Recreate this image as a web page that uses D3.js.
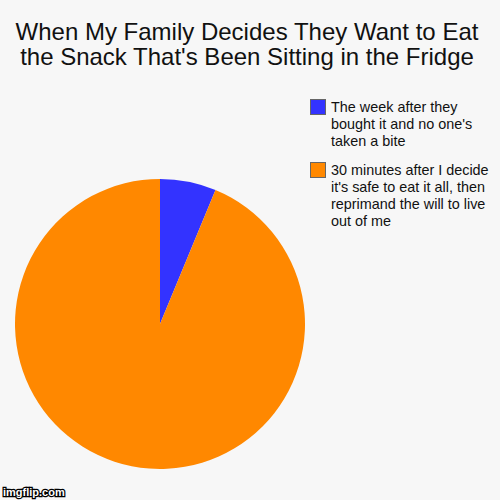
<!DOCTYPE html>
<html lang=en>
<head>
<meta charset='utf-8'>
<script src="https://d3js.org/d3.v7.min.js"></script>
<style>
    body { margin: 0; background: #f7f7f7; }
    svg { display: block; font-family: "Liberation Sans", Arial, sans-serif; }
</style>
</head>
<body>
<div id="chart"></div>
<script>
    // chart data
    var titleLines = ["When My Family Decides They Want to Eat", "the Snack That's Been Sitting in the Fridge"];
    var labels = [
        ["The week after they", "bought it and no one's", "taken a bite"],
        ["30 minutes after I decide", "it's safe to eat it all, then", "reprimand the will to live", "out of me"]
    ];
    var values = [1, 15];
    var colors = ["#3333ff", "#ff8800"];

    var width = 500, height = 500;
    var svg = d3.select("#chart").append("svg")
        .attr("width", width)
        .attr("height", height);

    svg.append("rect").attr("width", width).attr("height", height).attr("fill", "#f7f7f7");

    // title
    svg.selectAll(".title").data(titleLines).enter().append("text")
        .attr("x", 247)
        .attr("y", function(d, i) { return 40 + i * 25; })
        .attr("text-anchor", "middle")
        .style("font-size", "24px")
        .attr("fill", "#111")
        .text(function(d) { return d; });

    // pie
    var pie = d3.pie().sort(null).value(function(d) { return d; });
    var arc = d3.arc().innerRadius(0).outerRadius(145);
    var g = svg.append("g").attr("transform", "translate(160,324)");
    g.selectAll("path").data(pie(values)).enter().append("path")
        .attr("d", arc)
        .attr("fill", function(d, i) { return colors[i]; });

    // legend
    var legendY = [99, 162];
    var leg = svg.selectAll(".leg").data(labels).enter().append("g")
        .attr("transform", function(d, i) { return "translate(310," + legendY[i] + ")"; });
    leg.append("rect")
        .attr("x", 0.5).attr("y", 0.5)
        .attr("width", 15).attr("height", 15)
        .attr("fill", function(d, i) { return colors[i]; })
        .attr("stroke", "#666");
    leg.each(function(lines) {
        d3.select(this).selectAll("text").data(lines).enter().append("text")
            .attr("x", 21)
            .attr("y", function(d, i) { return 13 + i * 17; })
            .style("font-size", "14.4px")
            .attr("fill", "#111")
            .text(function(d) { return d; });
    });

    // watermark
    svg.append("text")
        .attr("x", 3).attr("y", 496)
        .style("font-size", "11px")
        .style("font-weight", "bold")
        .attr("fill", "#fff")
        .attr("stroke", "#000")
        .attr("stroke-width", 2.5)
        .attr("paint-order", "stroke")
        .text("imgflip.com");
</script>
</body>
</html>
